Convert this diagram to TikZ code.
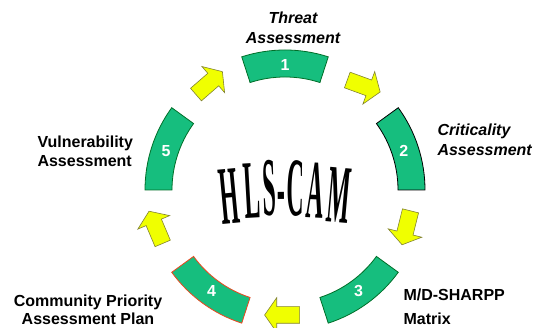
\documentclass[tikz,border=0pt]{standalone}
\usepackage{fontspec}
\setmainfont{Liberation Sans}
\newfontfamily\hlsfont{Liberation Serif}
\usepackage{xcolor}
\usetikzlibrary{shapes.arrows}

\definecolor{segfill}{RGB}{22,190,126}
\definecolor{segline}{RGB}{0,110,40}
\definecolor{segred}{RGB}{235,70,30}
\definecolor{arrfill}{RGB}{240,255,0}
\definecolor{arrline}{RGB}{130,130,50}

\tikzset{
  segbox/.style={fill=segfill, draw=#1, line width=0.8pt},
  segnum/.style={text=white, font=\bfseries\fontsize{16}{16}\selectfont},
  flowarrow/.style={single arrow, fill=arrfill, draw=arrline, line width=0.6pt,
    minimum height=35pt, inner xsep=0pt, inner ysep=8pt,
    single arrow head extend=9pt, single arrow tip angle=110},
  steplabel/.style={font=\bfseries\fontsize{16}{20}\selectfont},
  stepitalic/.style={font=\bfseries\itshape\fontsize{16}{20}\selectfont},
  hlsletter/.style={font=\hlsfont\bfseries\fontsize{40}{40}\selectfont,
    xscale=0.6, yscale=2.08, anchor=base, inner sep=0pt}
}

\begin{document}
\begin{tikzpicture}[x=1pt, y=1pt]
  \useasboundingbox (0,0) rectangle (536,328);
  \coordinate (ctr) at (285,138);

  % ring segments
  \foreach \n/\a/\col in {1/72/segline, 2/0/black, 3/-72/segline, 4/-144/segred, 5/144/segline} {
    \draw[segbox=\col] ([shift={(\a:140)}]ctr) arc[start angle=\a, end angle=\a+36, radius=140]
      -- ++(\a+216:27) arc[start angle=\a+36, end angle=\a, radius=113] -- cycle;
    \node[segnum] (num\n) at ([shift={(\a+18:125)}]ctr) {\n};
  }

  % arrows between the segments
  \node (a12) [flowarrow, rotate=-20] at (361,243) {};
  \node (a23) [flowarrow, rotate=-104] at (407,103) {};
  \node (a34) [flowarrow, rotate=180] at (285,13) {};
  \node (a45) [flowarrow, rotate=113] at (157,98) {};
  \node (a51) [flowarrow, rotate=41] at (207,243) {};

  % labels
  \node (threat) [stepitalic, align=center] at (293,300) {Threat\\Assessment};
  \node (critic) [stepitalic, align=left, anchor=west] at (434,188) {Criticality\\Assessment};
  \node (matrix) [steplabel, align=left, anchor=west, font=\bfseries\fontsize{16}{24}\selectfont] at (400,21) {M/D-SHARPP\\Matrix};
  \node (cpap) [steplabel, align=center, font=\bfseries\fontsize{16}{18}\selectfont] at (88,18) {Community Priority\\Assessment Plan};
  \node (vuln) [steplabel, align=left, anchor=west, font=\bfseries\fontsize{16}{19}\selectfont] at (34,177) {Vulnerability\\Assessment};

  % title in the middle
  \foreach \ch/\dx [count=\i] in {H/-54, L/-32.5, S/-16, -/-4.5, C/9.5, A/28.5, M/51}
    \node[rotate={-0.1*\dx}, hlsletter] (hls\i) at ({286+\dx}, {113-0.003*\dx*\dx}) {\ch};
\end{tikzpicture}
\end{document}
